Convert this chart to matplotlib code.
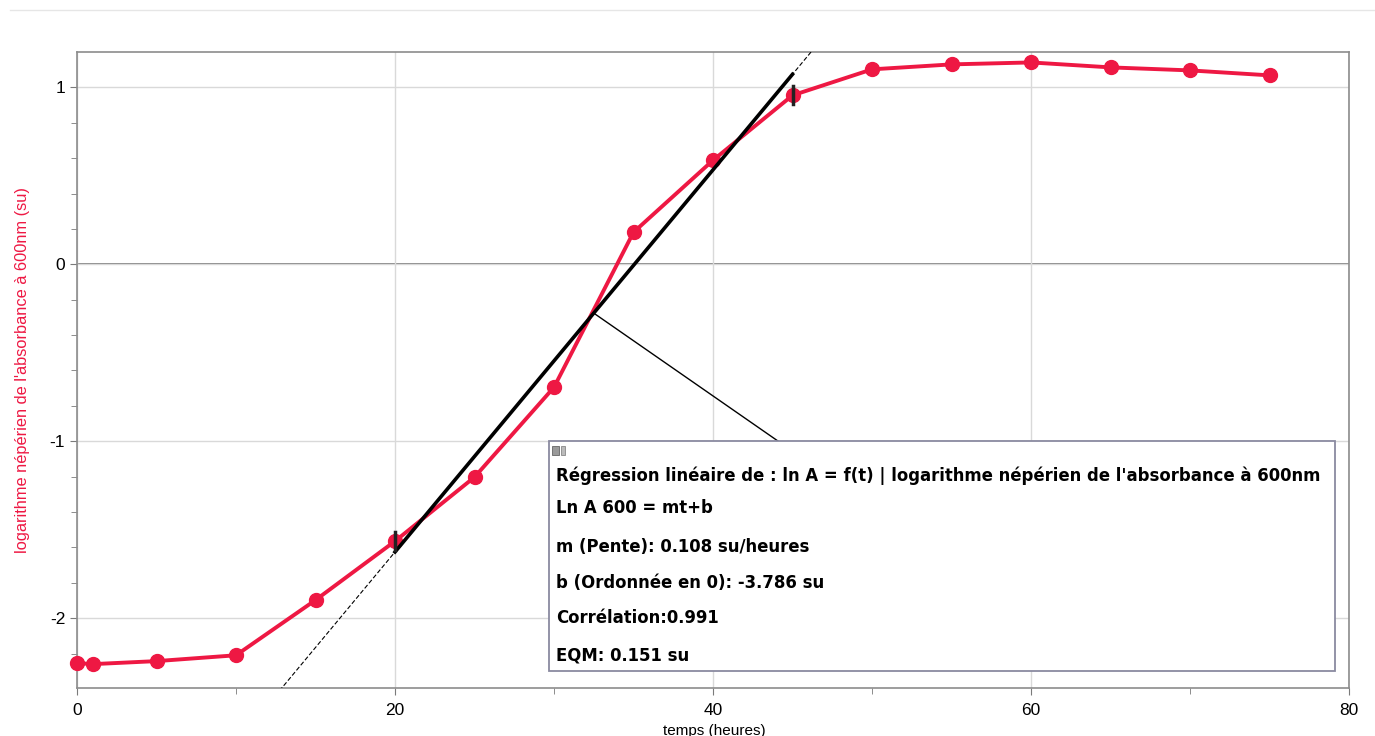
import matplotlib.pyplot as plt
import numpy as np
from matplotlib.patches import Rectangle

# temps (heures) et ln A mesurés
temps = [0, 1, 5, 10, 15, 20, 25, 30, 35, 40, 45, 50, 55, 60, 65, 70, 75]
ln_a = [-2.254, -2.26, -2.243, -2.21, -1.898, -1.565, -1.203, -0.695, 0.181,
        0.588, 0.955, 1.102, 1.13, 1.141, 1.113, 1.096, 1.068]

# régression linéaire
pente = 0.108
ordonnee = -3.786
debut_fit = 20
fin_fit = 45

box_lines = [
    "Régression linéaire de : ln A = f(t) | logarithme népérien de l'absorbance à 600nm",
    "Ln A 600 = mt+b",
    "m (Pente): 0.108 su/heures",
    "b (Ordonnée en 0): -3.786 su",
    "Corrélation:0.991",
    "EQM: 0.151 su",
]

plt.rcParams['font.family'] = ['Liberation Sans', 'DejaVu Sans']
plt.rcParams['axes.unicode_minus'] = False
red = '#ee1843'

fig = plt.figure(figsize=(13.75, 7.36), dpi=100)
ax = fig.add_axes([77 / 1375, 1 - 688 / 736, (1349 - 77) / 1375, (688 - 52) / 736])

ax.set_xlim(0, 80)
ax.set_ylim(-2.395, 1.2)

# grille
ax.set_xticks([0, 20, 40, 60, 80])
ax.set_xticks([10, 30, 50, 70], minor=True)
ax.set_yticks([-2, -1, 0, 1])
ax.set_yticks(np.arange(-2.2, 1.2, 0.2), minor=True)
ax.grid(True, which='major', color='#d9d9d9', lw=1)
ax.axhline(0, color='#7a7a7a', lw=1.3, zorder=1)
for s in ax.spines.values():
    s.set_color('#8c8c8c')
    s.set_linewidth(1.2)
ax.tick_params(which='both', colors='#7a7a7a', labelcolor='black', labelsize=12.5, direction='out')
ax.tick_params(which='major', length=5)
ax.tick_params(which='minor', length=4)
ax.tick_params(axis='x', pad=6)

# données
ax.plot(temps, ln_a, color=red, lw=2.8, marker='o', ms=10, zorder=3, clip_on=False)

# droite de régression (pointillés sur tout l'axe, pleine sur l'intervalle)
t_all = np.array([0, 80])
ax.plot(t_all, pente * t_all + ordonnee, color='black', lw=0.8, ls=(0, (4, 2)), zorder=4)
t_fit = np.array([debut_fit, fin_fit])
ax.plot(t_fit, pente * t_fit + ordonnee, color='black', lw=2.6, zorder=5)
for t in (debut_fit, fin_fit):
    y = ln_a[temps.index(t)]
    ax.plot([t, t], [y - 0.05, y + 0.05], color='#222222', lw=2.5, zorder=6)

# trait vers la boîte
t_ann = 32.5
ax.plot([t_ann, 44.1], [pente * t_ann + ordonnee, -1.0], color='black', lw=1, zorder=4)

# boîte de résultats
x0, x1 = (549 - 77) / 15.9, (1335 - 77) / 15.9
y_top, y_bot = (264 - 441) / 177, (264 - 671) / 177
ax.add_patch(Rectangle((x0, y_bot), x1 - x0, y_top - y_bot, facecolor='white',
                       edgecolor='#8a8aa0', lw=1.3, zorder=7))
ax.add_patch(Rectangle((x0 + 0.2, y_top - 0.08), 0.45, 0.055, facecolor='#9a9a9a',
                       edgecolor='#666666', lw=0.6, zorder=8))
ax.add_patch(Rectangle((x0 + 0.75, y_top - 0.08), 0.25, 0.055, facecolor='#bbbbbb',
                       edgecolor='#888888', lw=0.6, zorder=8))
line_px = [476, 508, 547, 583, 618, 655]
for txt, py in zip(box_lines, line_px):
    ax.text((556 - 77) / 15.9, (264 - py) / 177, txt, fontsize=11.9, fontweight='bold',
            family='DejaVu Sans', va='center', ha='left', zorder=9)

ax.set_xlabel('temps (heures)', fontsize=11, labelpad=4)
ax.xaxis.set_label_coords((714 - 77) / 1272, -0.057)
ax.set_ylabel("logarithme népérien de l'absorbance à 600nm (su)", color=red, fontsize=11.8)
ax.yaxis.set_label_coords(-0.037, 0.5)

# cadre extérieur
fig.add_artist(plt.Line2D([10 / 1375, 1], [1 - 10 / 736, 1 - 10 / 736], color='#e6e6e6', lw=1))

fig.savefig('out.png', dpi=100)
